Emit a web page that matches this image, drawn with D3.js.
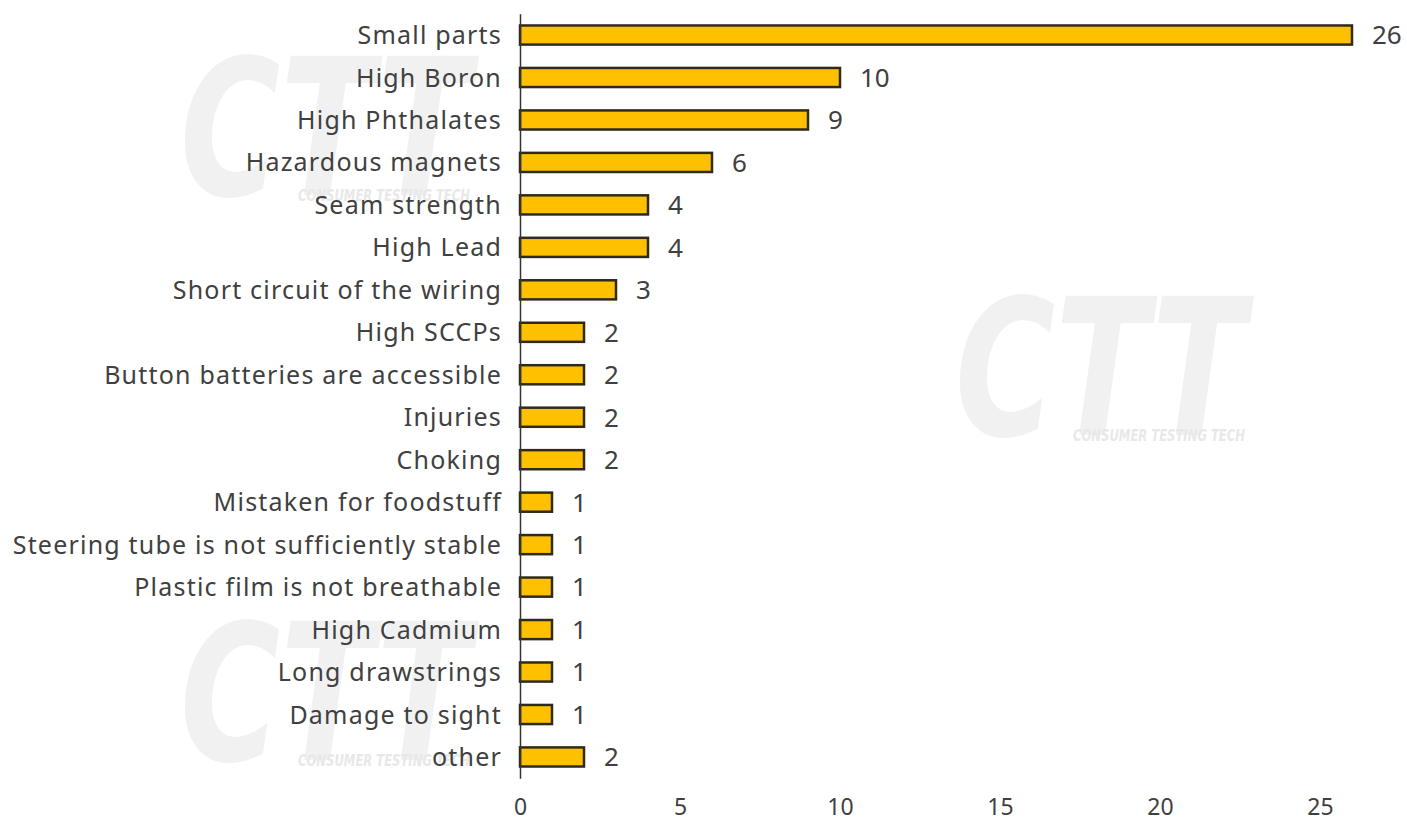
<!DOCTYPE html>
<html>
<head>
<meta charset="utf-8">
<script src="https://cdn.jsdelivr.net/npm/d3@7"></script>
<style>
  body { margin: 0; background: #fff; }
  svg { display: block; }
</style>
</head>
<body>
<svg id="chart" width="1407" height="822"></svg>
<script>
// categories top to bottom, and their counts
const categories = [
    "Small parts", "High Boron", "High Phthalates", "Hazardous magnets",
    "Seam strength", "High Lead", "Short circuit of the wiring", "High SCCPs",
    "Button batteries are accessible", "Injuries", "Choking",
    "Mistaken for foodstuff", "Steering tube is not sufficiently stable",
    "Plastic film is not breathable", "High Cadmium", "Long drawstrings",
    "Damage to sight", "other"
];
const counts = [26, 10, 9, 6, 4, 4, 3, 2, 2, 2, 2, 1, 1, 1, 1, 1, 1, 2];
const xTicks = [0, 5, 10, 15, 20, 25];

// watermark spots (left, top)
const marks = [[180, 55], [955, 295], [180, 620]];

const svg = d3.select("#chart");
const textColor = "#404040";
const font = "'Noto Sans', 'Open Sans', sans-serif";

// faint CTT logos behind the chart
const wm = svg.append("g");
marks.forEach(([mx, my]) => {
    const g = wm.append("g").attr("transform", `translate(${mx},${my})`);
    g.append("text")
        .attr("x", 0)
        .attr("y", 140)
        .attr("textLength", 290)
        .attr("lengthAdjust", "spacingAndGlyphs")
        .style("font-family", "'DejaVu Sans', sans-serif")
        .style("font-weight", 700)
        .style("font-style", "italic")
        .style("font-size", "190px")
        .style("fill", "#f1f1f1")
        .text("CTT");
    g.append("text")
        .attr("x", 118)
        .attr("y", 146)
        .attr("textLength", 172)
        .attr("lengthAdjust", "spacingAndGlyphs")
        .style("font-family", "'DejaVu Sans Condensed', sans-serif")
        .style("font-weight", 700)
        .style("font-style", "italic")
        .style("font-size", "15px")
        .style("fill", "#e8e8e8")
        .text("CONSUMER TESTING TECH");
});

const x = d3.scaleLinear()
    .domain([0, 25])
    .range([520, 1320]);

const y = d3.scaleBand()
    .domain(categories)
    .range([13.8, 778.2])
    .paddingInner(0.55)
    .paddingOuter(0.275);

// bars
svg.append("g")
    .selectAll("rect")
    .data(categories)
    .enter()
    .append("rect")
    .attr("x", x(0))
    .attr("y", d => y(d))
    .attr("width", (d, i) => x(counts[i]) - x(0))
    .attr("height", y.bandwidth())
    .style("fill", "#FFC000")
    .style("stroke", "#2e2a1c")
    .style("stroke-width", 2.5);

// value labels
svg.append("g")
    .selectAll("text")
    .data(categories)
    .enter()
    .append("text")
    .attr("x", (d, i) => x(counts[i]) + 20)
    .attr("y", d => y(d) + y.bandwidth() / 2)
    .attr("dy", "0.36em")
    .style("font-family", font)
    .style("font-size", "26px")
    .style("fill", textColor)
    .text((d, i) => counts[i]);

// category axis
const yAxis = svg.append("g")
    .attr("transform", `translate(${x(0)},0)`)
    .call(d3.axisLeft(y).tickSize(0).tickPadding(18));
yAxis.select(".domain")
    .attr("stroke", "#333")
    .attr("stroke-width", 1.5);
yAxis.selectAll("text")
    .attr("dy", "0.36em")
    .style("font-family", font)
    .style("font-size", "25px")
    .style("letter-spacing", "1.2px")
    .style("fill", textColor);

// value axis, labels only
const xAxis = svg.append("g")
    .attr("transform", "translate(0,799)")
    .call(d3.axisBottom(x).tickValues(xTicks).tickSize(0).tickPadding(0));
xAxis.select(".domain").remove();
xAxis.selectAll("text")
    .style("font-family", font)
    .style("font-size", "23px")
    .style("fill", textColor);
</script>
</body>
</html>
